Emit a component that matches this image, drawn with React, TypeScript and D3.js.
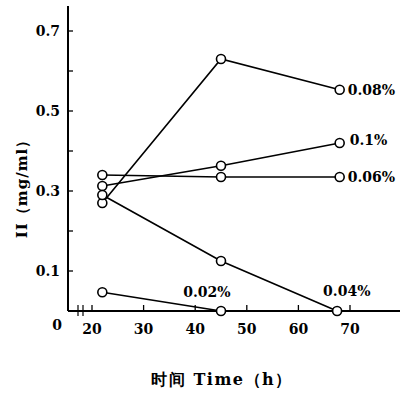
import React, { useEffect, useRef } from 'react';
import * as d3 from 'd3';

// time (h) and II (mg/ml)
const times = [22, 45, 68];
const c008 = [0.27, 0.63, 0.553];
const c010 = [0.3125, 0.363, 0.42];
const c006 = [0.34, 0.335, 0.335];
const c004 = [0.29, 0.125, 0.0];
const c002 = [0.047, 0.0];
const t004 = [22, 45, 67.5];
const t002 = [22, 45];

const seriesNames = ['0.08%', '0.1%', '0.06%', '0.04%', '0.02%'];
const xTicks = [20, 30, 40, 50, 60, 70];
const yLabels = [0.1, 0.3, 0.5, 0.7];
const yMinor = [0.2, 0.4, 0.6];

const W = 408;
const H = 393;
const font = '"DejaVu Serif", "Liberation Serif", serif';

const draw = (el: SVGSVGElement) => {
	const svg = d3.select(el);
	svg.selectAll('*').remove();

	const x = d3.scaleLinear().domain([20, 70]).range([92, 350]);
	const y = d3.scaleLinear().domain([0, 0.7]).range([311, 31]);
	const x0 = 68;
	const y0 = y(0);

	// axes
	svg.append('line').attr('x1', x0).attr('x2', x0).attr('y1', 6).attr('y2', y0)
		.attr('stroke', '#000').attr('stroke-width', 2);
	svg.append('line').attr('x1', x0).attr('x2', 400).attr('y1', y0).attr('y2', y0)
		.attr('stroke', '#000').attr('stroke-width', 2);

	// axis break
	[78, 83].forEach((bx) => {
		svg.append('line').attr('x1', bx).attr('x2', bx).attr('y1', y0 - 6).attr('y2', y0 + 5)
			.attr('stroke', '#000').attr('stroke-width', 1.2);
	});

	svg.append('g').selectAll('line')
		.data([...yLabels, ...yMinor])
		.join('line')
		.attr('x1', x0).attr('x2', x0 + 5)
		.attr('y1', (d) => y(d)).attr('y2', (d) => y(d))
		.attr('stroke', '#000').attr('stroke-width', 1.3);

	svg.append('g').selectAll('text')
		.data(yLabels)
		.join('text')
		.attr('x', x0 - 8)
		.attr('y', (d) => y(d) + 5)
		.attr('text-anchor', 'end')
		.attr('font-family', font)
		.attr('font-weight', 'bold')
		.attr('font-size', 14)
		.text((d) => d.toFixed(1));

	svg.append('g').selectAll('line')
		.data(xTicks)
		.join('line')
		.attr('x1', (d) => x(d)).attr('x2', (d) => x(d))
		.attr('y1', y0).attr('y2', y0 - 6)
		.attr('stroke', '#000').attr('stroke-width', 1.3);

	svg.append('g').selectAll('text')
		.data(xTicks)
		.join('text')
		.attr('x', (d) => x(d))
		.attr('y', y0 + 23)
		.attr('text-anchor', 'middle')
		.attr('font-family', font)
		.attr('font-weight', 'bold')
		.attr('font-size', 14)
		.text((d) => d);

	svg.append('text').attr('x', 57).attr('y', y0 + 19)
		.attr('text-anchor', 'middle')
		.attr('font-family', font).attr('font-weight', 'bold').attr('font-size', 14)
		.text('0');

	// axis titles
	svg.append('text')
		.attr('transform', `translate(27, 185) rotate(-90)`)
		.attr('text-anchor', 'middle')
		.attr('font-family', font)
		.attr('font-weight', 'bold')
		.attr('font-size', 15)
		.attr('letter-spacing', 1)
		.text('II（mg/ml）');

	svg.append('text')
		.attr('x', 222).attr('y', 385)
		.attr('text-anchor', 'middle')
		.attr('font-family', font)
		.attr('font-weight', 'bold')
		.attr('font-size', 16)
		.attr('letter-spacing', 1.5)
		.text('时间 Time（h）');

	const series = [
		{ t: times, v: c008 },
		{ t: times, v: c010 },
		{ t: times, v: c006 },
		{ t: t004, v: c004 },
		{ t: t002, v: c002 },
	];

	const line = d3.line<[number, number]>()
		.x((d) => x(d[0]))
		.y((d) => y(d[1]));

	series.forEach((s) => {
		const pts = s.t.map((t, i) => [t, s.v[i]] as [number, number]);
		svg.append('path').attr('d', line(pts))
			.attr('fill', 'none').attr('stroke', '#000').attr('stroke-width', 1.6);
	});
	series.forEach((s) => {
		const pts = s.t.map((t, i) => [t, s.v[i]] as [number, number]);
		svg.append('g').selectAll('circle')
			.data(pts)
			.join('circle')
			.attr('cx', (d) => x(d[0]))
			.attr('cy', (d) => y(d[1]))
			.attr('r', 4.5)
			.attr('fill', '#fff')
			.attr('stroke', '#000')
			.attr('stroke-width', 1.6);
	});

	// series labels
	const labelPos = [
		{ t: 68, v: c008[2], dx: 8, dy: 5 },
		{ t: 68, v: c010[2], dx: 10, dy: 2 },
		{ t: 68, v: c006[2], dx: 8, dy: 5 },
		{ t: 67.5, v: 0.0, dx: -14, dy: -15 },
		{ t: 40, v: 0.0, dx: -12, dy: -14 },
	];
	svg.append('g').selectAll('text')
		.data(seriesNames)
		.join('text')
		.attr('x', (d, i) => x(labelPos[i].t) + labelPos[i].dx)
		.attr('y', (d, i) => y(labelPos[i].v) + labelPos[i].dy)
		.attr('font-family', font)
		.attr('font-weight', 'bold')
		.attr('font-size', 14)
		.text((d) => d);
};

const App = () => {
	const ref = useRef<SVGSVGElement>(null);

	useEffect(() => {
		if (ref.current) draw(ref.current);
	}, []);

	return (
		<svg ref={ ref } width={ W } height={ H }
			style={ { position: 'absolute', left: 0, top: 0, background: '#fff' } }/>
	);
};

export default App;
